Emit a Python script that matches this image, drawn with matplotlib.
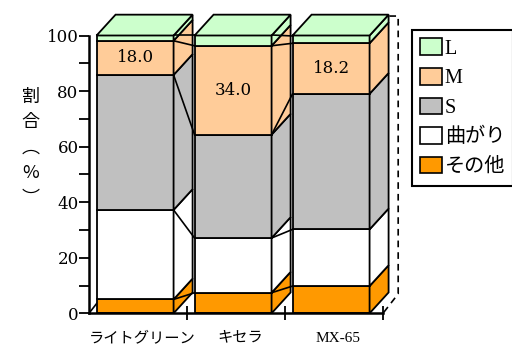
import numpy as np
import matplotlib
matplotlib.use("Agg")
import matplotlib.pyplot as plt
from matplotlib.patches import Polygon, Rectangle, Patch

categories = ['ライトグリーン', 'キセラ', 'MX-65']
series_names = ['その他', '曲がり', 'S', 'M', 'L']   # bottom -> top
sonota = [5.0, 7.4, 9.8]
magari = [32.2, 19.7, 20.4]
s_vals = [48.6, 37.2, 48.8]
m_vals = [12.3, 32.0, 18.2]
l_vals = [1.9, 3.7, 2.8]
m_labels = ['18.0', '34.0', '18.2']
colors = ['#FF9900', '#FFFFFF', '#C0C0C0', '#FFCC99', '#CCFFCC']

serif = 'DejaVu Serif'
mixed = ['Liberation Serif', 'Noto Sans CJK JP']

fig = plt.figure(figsize=(5.12, 3.45), dpi=100)
ax = fig.add_axes([89/512, (345-313.3)/345, 294/512, 277.8/345])
ax.set_xlim(-0.5, 2.5)
ax.set_ylim(0, 100)

width = 0.786
shift = -0.03
dx, dy = 0.194, 7.5      # bar depth
dxw, dyw = 0.155, 7.0    # floor / wall depth

data = np.array([sonota, magari, s_vals, m_vals, l_vals])
cum = np.cumsum(data, axis=0)

# floor left edge (mostly hidden behind first bar)
ax.plot([-0.5, -0.5 + dxw], [0, dyw], color='black', lw=1.2, zorder=1, clip_on=False)
# back wall right edge, dashed
ax.plot([2.5 + dxw - 0.09, 2.5 + dxw, 2.5 + dxw, 2.5], [100 + dyw, 100 + dyw, dyw, 0],
        color='black', lw=1.2, ls=(0, (4, 3)), zorder=1, clip_on=False)

for i in range(len(categories)):
    x0 = i + shift - width/2
    x1 = i + shift + width/2
    for j in range(len(series_names)):
        b = cum[j, i] - data[j, i]
        t = cum[j, i]
        ax.add_patch(Rectangle((x0, b), width, t - b, facecolor=colors[j],
                               edgecolor='black', lw=1.3, zorder=2, clip_on=False))
        ax.add_patch(Polygon([(x1, b), (x1 + dx, b + dy), (x1 + dx, t + dy), (x1, t)],
                             facecolor=colors[j], edgecolor='black', lw=1.3,
                             zorder=2, clip_on=False))
    top = cum[-1, i]
    ax.add_patch(Polygon([(x0, top), (x0 + dx, top + dy), (x1 + dx, top + dy), (x1, top)],
                         facecolor=colors[-1], edgecolor='black', lw=1.3,
                         zorder=2, clip_on=False))
    m_mid = cum[3, i] - data[3, i] / 2
    ax.text(i + shift, m_mid, m_labels[i], ha='center', va='center',
            fontsize=12, family=serif, zorder=5)
    ax.text(i + 0.04, -0.09, categories[i], transform=ax.get_xaxis_transform(),
            ha='center', va='center', fontsize=11, family=mixed)

# series lines between bars
for i in range(len(categories) - 1):
    xa = i + shift + width/2
    xb = i + 1 + shift - width/2
    for j in range(len(series_names)):
        ax.plot([xa, xb], [cum[j, i], cum[j, i + 1]], color='black', lw=1.2,
                zorder=4, clip_on=False)

# axes styling
for side in ['top', 'right']:
    ax.spines[side].set_visible(False)
for side in ['left', 'bottom']:
    ax.spines[side].set_linewidth(1.8)
    ax.spines[side].set_zorder(3)
ax.set_yticks(range(0, 101, 20))
ax.set_yticks(range(10, 100, 20), minor=True)
ax.tick_params(axis='y', which='both', direction='out', length=7.5, width=1.3, pad=0)
ax.set_yticklabels([str(v) for v in range(0, 101, 20)], family=serif, fontsize=12)
ax.set_xticks([0.5, 1.5, 2.5])
ax.set_xticklabels([])
ax.tick_params(axis='x', which='major', direction='inout', length=10, width=1.3)
ax.patch.set_visible(False)

# vertical y label
ylabel_chars = ['割', '合', '︵', '%', '︶']
for k, ch in enumerate(ylabel_chars):
    fig.text(30.7/512, 1 - (97 + 25.5*k)/345, ch, ha='center', va='center',
             fontsize=13, family=['Noto Sans CJK JP', 'DejaVu Sans'])

handles = [Patch(facecolor=colors[j], edgecolor='black', lw=1.2) for j in range(4, -1, -1)]
labels = [series_names[j] for j in range(4, -1, -1)]
leg = fig.legend(handles, labels, loc='upper left', bbox_to_anchor=(412/512, 1 - 30/345),
                 prop={'family': mixed, 'size': 14.5}, handlelength=1.05, handleheight=0.9,
                 handletextpad=0.15, labelspacing=0.46, borderpad=0.42, borderaxespad=0,
                 fancybox=False, framealpha=1)
leg.get_frame().set_edgecolor('black')
leg.get_frame().set_linewidth(1.5)

fig.savefig('out.png', dpi=100)
